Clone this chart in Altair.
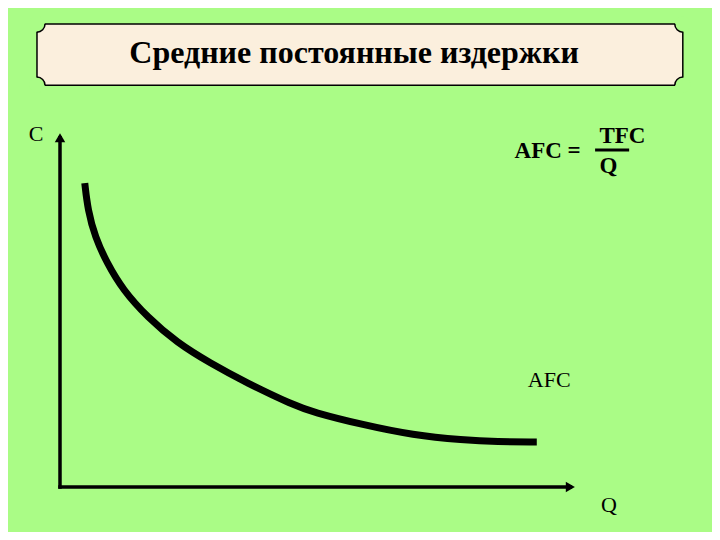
import altair as alt
import pandas as pd

# ---- data (Q units on the horizontal axis, C units on the vertical axis) ----
afc_q = [0.48, 0.54, 0.68, 0.91, 1.22, 1.69, 2.27, 2.91, 3.62, 4.52, 4.90, 5.87, 6.84, 7.81, 8.47, 9.24]
afc_c = [8.56, 7.80, 7.04, 6.31, 5.55, 4.79, 4.06, 3.49, 2.93, 2.31, 2.11, 1.75, 1.46, 1.32, 1.27, 1.27]

axis_q1 = [0, 0]
axis_c1 = [0, 0]
axis_q2 = [9.89, 0]
axis_c2 = [0, 9.84]
arrow_shape = ["triangle-right", "triangle-up"]

banner_q = [-0.446, 12.07]
banner_c = [11.32, 13.04]

title_text = ["Средние постоянные издержки"]
title_q = [5.70]
title_c = [11.94]

plain_text = ["C", "Q", "AFC"]
plain_q = [-0.465, 10.64, 9.48]
plain_c = [9.755, -0.70, 2.82]

formula_text = ["AFC =", "TFC", "Q"]
formula_q = [9.45, 10.90, 10.63]
formula_c = [9.27, 9.69, 8.85]
frac_q = [10.37, 11.03]
frac_c = [9.49]

# ---- styling ----
BG = "#aafc86"
BEIGE = "#fbefdd"
SERIF = "Liberation Serif"

xs = alt.Scale(domain=[0, 10], nice=False, zero=False)
ys = alt.Scale(domain=[0, 10], nice=False, zero=False)

def X(f):
    return alt.X(f, type="quantitative", scale=xs, axis=None)

def Y(f):
    return alt.Y(f, type="quantitative", scale=ys, axis=None)

# banner body
banner_df = pd.DataFrame({"q1": [banner_q[0]], "q2": [banner_q[1]],
                          "c1": [banner_c[0]], "c2": [banner_c[1]]})
banner = alt.Chart(banner_df).mark_rect(fill=BEIGE, stroke="black", strokeWidth=1.5).encode(
    x=X("q1"), x2="q2", y=Y("c1"), y2="c2")

corners_df = pd.DataFrame({
    "q": [banner_q[0], banner_q[1], banner_q[0], banner_q[1]],
    "c": [banner_c[1], banner_c[1], banner_c[0], banner_c[0]],
    "t1": [1.5708, 3.1416, 0.0, 4.7124],
    "t2": [3.1416, 4.7124, 1.5708, 6.2832],
})
notch_fill = alt.Chart(corners_df).mark_circle(size=240, color=BG, opacity=1).encode(
    x=X("q"), y=Y("c"))
notch_line = alt.Chart(corners_df).mark_arc(radius=8.8, radius2=7.3, color="black").encode(
    x=X("q"), y=Y("c"),
    theta=alt.Theta("t1:Q", scale=None, stack=None), theta2="t2:Q")

title = alt.Chart(pd.DataFrame({"t": title_text, "q": title_q, "c": title_c})).mark_text(
    font=SERIF, fontSize=32, fontWeight="bold", baseline="alphabetic", align="center", color="black"
).encode(x=X("q"), y=Y("c"), text="t:N")

# axes
axis_df = pd.DataFrame({"q1": axis_q1, "c1": axis_c1, "q2": axis_q2, "c2": axis_c2, "shape": arrow_shape})
axes = alt.Chart(axis_df).mark_rule(color="black", strokeWidth=3.5, strokeCap="square").encode(
    x=X("q1"), y=Y("c1"), x2="q2", y2="c2")
arrows = alt.Chart(axis_df).mark_point(filled=True, color="black", size=110, opacity=1).encode(
    x=X("q2"), y=Y("c2"), shape=alt.Shape("shape:N", scale=None))

# curve
curve_df = pd.DataFrame({"q": afc_q, "c": afc_c, "i": list(range(len(afc_q)))})
curve = alt.Chart(curve_df).mark_line(color="black", strokeWidth=7, interpolate="basis", strokeCap="butt").encode(
    x=X("q"), y=Y("c"), order="i:Q")

labels = alt.Chart(pd.DataFrame({"t": plain_text, "q": plain_q, "c": plain_c})).mark_text(
    font=SERIF, fontSize=22, baseline="alphabetic", align="center", color="black"
).encode(x=X("q"), y=Y("c"), text="t:N")

formula = alt.Chart(pd.DataFrame({"t": formula_text, "q": formula_q, "c": formula_c})).mark_text(
    font=SERIF, fontSize=23, fontWeight="bold", baseline="alphabetic", align="center", color="black"
).encode(x=X("q"), y=Y("c"), text="t:N")

frac = alt.Chart(pd.DataFrame({"q1": [frac_q[0]], "q2": [frac_q[1]], "c": frac_c})).mark_rule(
    color="black", strokeWidth=3).encode(x=X("q1"), x2="q2", y=Y("c"))

chart = alt.layer(banner, notch_fill, notch_line, title, axes, arrows, curve, labels, formula, frac).properties(
    width=516, height=355,
    autosize=alt.AutoSizeParams(type="none"),
    padding={"left": 52, "top": 124, "right": 136, "bottom": 45},
    background=BG,
).configure_view(stroke=None)

chart.save("out.html", embed_options={"renderer": "svg", "actions": False})
